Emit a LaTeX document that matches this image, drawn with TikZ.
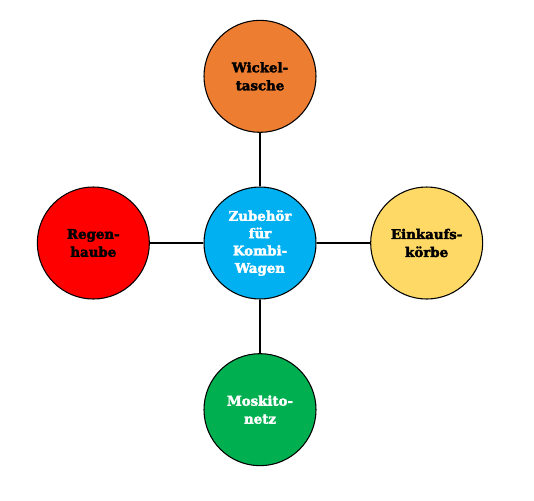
\documentclass[tikz,border=0pt]{standalone}
\usepackage{fontspec}
\setmainfont{DejaVu Serif}[BoldFont={DejaVu Serif Bold}, BoldFeatures={FakeBold=2.6}]
\usetikzlibrary{positioning}
\definecolor{wickelorange}{HTML}{ED7D31}
\definecolor{zubehoerblue}{HTML}{00B0F0}
\definecolor{regenred}{HTML}{FF0000}
\definecolor{einkaufyellow}{HTML}{FFD966}
\definecolor{moskitogreen}{HTML}{00B050}

\begin{document}
\begin{tikzpicture}[x=0.75pt, y=-0.75pt, node distance=125pt, on grid,
    bubble/.style={circle, draw=black, line width=0.8pt, minimum size=84pt,
      inner sep=0pt, align=center, font=\bfseries\fontsize{10}{13.5}\selectfont},
    link/.style={line width=2pt}]
  \useasboundingbox (0,0) rectangle (534,500);
  \node[bubble, fill=zubehoerblue, text=white, font=\bfseries\fontsize{10}{13}\selectfont] (zubehoer) at (260,243) {Zubehör\\für\\Kombi-\\Wagen};
  \node[bubble, fill=wickelorange, above=of zubehoer] (wickel) {Wickel-\\tasche};
  \node[bubble, fill=regenred, left=of zubehoer] (regen) {Regen-\\haube};
  \node[bubble, fill=einkaufyellow, right=of zubehoer] (einkauf) {Einkaufs-\\körbe};
  \node[bubble, fill=moskitogreen, text=white, below=of zubehoer] (moskito) {Moskito-\\netz};
  % Verbindungen
  \draw[link] (zubehoer) -- (wickel);
  \draw[link] (zubehoer) -- (regen);
  \draw[link] (zubehoer) -- (einkauf);
  \draw[link] (zubehoer) -- (moskito);
\end{tikzpicture}
\end{document}
